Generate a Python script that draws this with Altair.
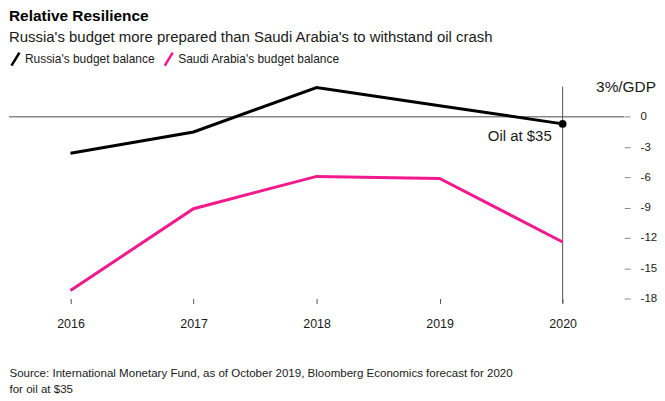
import altair as alt
import pandas as pd

# ---- data ----
years = [2016, 2017, 2018, 2019, 2020]
russia = [-3.6, -1.5, 2.9, 1.1, -0.7]
saudi = [-17.2, -9.1, -5.9, -6.1, -12.4]
series_names = ["Russia's budget balance", "Saudi Arabia's budget balance"]
series_colors = ["#000000", "#f2198c"]
y_ticks = [0, -3, -6, -9, -12, -15, -18]
unit_label = "3%/GDP"
annotation = "Oil at $35"
title_text = "Relative Resilience"
subtitle_text = "Russia's budget more prepared than Saudi Arabia's to withstand oil crash"
source_lines = [
    "Source: International Monetary Fund, as of October 2019, Bloomberg Economics forecast for 2020",
    "for oil at $35",
]

df = pd.DataFrame({
    "year": years * 2,
    "value": russia + saudi,
    "series": [series_names[0]] * len(years) + [series_names[1]] * len(years),
})
last = pd.DataFrame({"year": [years[-1]], "value": [russia[-1]], "label": [annotation]})
zero_df = pd.DataFrame({"value": [0]})
vline_df = pd.DataFrame({"year": [years[-1]], "value": [3], "bottom": [-18.45]})
unit_df = pd.DataFrame({"value": [3], "label": [unit_label]})

W, H = 618, 213
FONT = "Liberation Sans"
TXT = "#1a1a1a"

xscale = alt.Scale(domain=[2015.5, 2020.5], nice=False, zero=False)
yscale = alt.Scale(domain=[-18, 3], nice=False, zero=False)

x_axis = alt.Axis(
    values=years, format="d", tickSize=5, tickColor="#555", domain=False, grid=False,
    labelFontSize=12.5, labelPadding=14, labelColor=TXT, labelFont=FONT,
    title=source_lines, titleFont=FONT, titleFontSize=11.6, titleFontWeight="normal",
    titleColor=TXT, titleAnchor="start", titleAlign="left", titleX=0, titleY=78,
    titleBaseline="alphabetic", titleLineHeight=16,
)
y_axis = alt.Axis(
    orient="right", values=y_ticks, tickSize=6, tickColor="#888", domain=False, grid=False,
    labelAlign="left", labelPadding=10, labelFontSize=11.5, labelColor=TXT, labelFont=FONT,
    labelOverlap=False, labelBound=False, labelExpr="datum.value + ''", title=None,
)


def X():
    return alt.X("year:Q", scale=xscale, axis=x_axis)


def Y():
    return alt.Y("value:Q", scale=yscale, axis=y_axis)


lines = alt.Chart(df).mark_line(strokeWidth=3).encode(
    x=X(), y=Y(),
    color=alt.Color(
        "series:N",
        scale=alt.Scale(domain=series_names, range=series_colors),
        legend=alt.Legend(
            orient="none", legendX=0, legendY=-34, direction="horizontal", title=None,
            symbolType="M-0.8,1.3L0.8,-1.3", symbolSize=100, symbolStrokeWidth=2.5,
            labelFontSize=12, labelFont=FONT, labelColor=TXT, columnPadding=4,
            labelOffset=3, labelLimit=400,
        ),
    ),
)

zero_rule = alt.Chart(zero_df).mark_rule(color="#888", strokeWidth=1.5).encode(y=Y())
vline = alt.Chart(vline_df).mark_rule(color="#555", strokeWidth=1).encode(
    x=X(), y=Y(), y2="bottom:Q"
)
dot = alt.Chart(last).mark_circle(size=60, color="#000", opacity=1).encode(x=X(), y=Y())
dot_label = alt.Chart(last).mark_text(
    align="right", baseline="middle", dx=-11, dy=12, fontSize=15, font=FONT, color=TXT
).encode(x=X(), y=Y(), text="label:N")
unit = alt.Chart(unit_df).mark_text(
    align="right", baseline="middle", fontSize=15.5, font=FONT, color=TXT
).encode(x=alt.value(W + 32), y=Y(), text="label:N")

chart = alt.layer(zero_rule, vline, lines, dot, dot_label, unit).properties(
    width=W, height=H, background="white",
    padding={"left": 0, "top": 0, "right": 0, "bottom": 0},
    title=alt.TitleParams(
        text=title_text, subtitle=subtitle_text, anchor="start", frame="group",
        font=FONT, fontSize=15.5, fontWeight="bold", color="#000",
        subtitleFont=FONT, subtitleFontSize=15, subtitleColor=TXT, subtitlePadding=5,
        offset=8,
    ),
).configure_view(stroke=None).configure_axis(grid=False)

chart.save("out.html", embed_options={"renderer": "svg", "actions": False})
